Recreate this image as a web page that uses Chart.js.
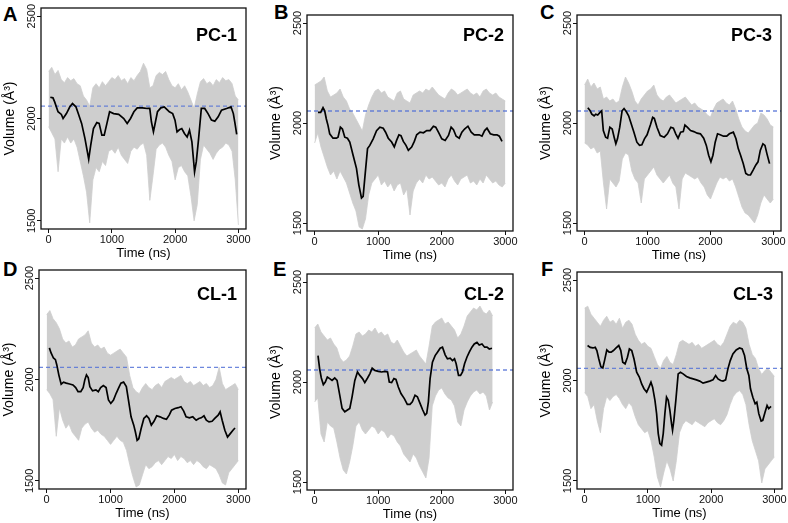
<!DOCTYPE html>
<html><head><meta charset="utf-8">
<script src="https://cdn.jsdelivr.net/npm/chart.js@4.4.1/dist/chart.umd.min.js"></script>
<style>
html,body{margin:0;padding:0;background:#fff;width:788px;height:523px;overflow:hidden;position:relative;}
canvas{position:absolute;}
.lt{position:absolute;font:bold 20px "Liberation Sans",Arial,sans-serif;line-height:20px;color:#000;}
</style></head><body>
<div class="lt" style="left:3px;top:4px">A</div>
<div class="lt" style="left:274px;top:2px">B</div>
<div class="lt" style="left:540px;top:2px">C</div>
<div class="lt" style="left:3px;top:259px">D</div>
<div class="lt" style="left:273px;top:259px">E</div>
<div class="lt" style="left:541px;top:259px">F</div>
<script>
// ---------- DATA ----------
const xTicks = [0, 1000, 2000, 3000];
const yTicks = [1500, 2000, 2500];
const refVolume = 2060;
const panelTitles = ["PC-1", "PC-2", "PC-3", "CL-1", "CL-2", "CL-3"];

const envTime = [0,50,100,150,200,250,300,350,400,450,500,550,600,650,700,750,800,850,900,950,
 1000,1050,1100,1150,1200,1250,1300,1350,1400,1450,1500,1550,1600,1650,1700,1750,1800,1850,1900,1950,
 2000,2050,2100,2150,2200,2250,2300,2350,2400,2450,2500,2550,2600,2650,2700,2750,2800,2850,2900,2950,3000];
const envTimeE = [0,50,100,150,200,250,300,350,400,450,500,550,600,650,700,750,800,850,900,950,
 1000,1050,1100,1150,1200,1250,1300,1350,1400,1450,1500,1550,1600,1650,1700,1750,1800,1850,1900,1950,
 2000,2050,2100,2150,2200,2250,2300,2350,2400,2450,2500,2550,2600,2650,2700,2750,2800];

// PC-1
const pc1Time = [27,69,96,149,202,229,282,336,378,432,469,522,575,613,634,666,709,762,799,842,879,922,964,1028,1108,1188,1242,1295,1348,1401,1481,1561,1599,1625,1657,1678,1721,1774,1828,1881,1908,1961,1998,2030,2067,2105,2147,2190,2227,2265,2307,2334,2371,2414,2467,2520,2574,2627,2680,2733,2813,2883,2920,2946,2973];
const pc1Smooth = [2104,2101,2081,2033,2020,2000,2024,2057,2073,2057,2024,1976,1902,1837,1801,1870,1951,1980,1976,1919,1919,1976,2033,2024,2020,2000,1976,2000,2033,2052,2052,2049,2049,1984,1935,1967,2033,2052,2057,2041,2033,2024,1992,1935,1945,1951,1927,1910,1943,1886,1739,1788,1902,2049,2049,2024,1992,1987,2008,2041,2049,2057,2024,1976,1922];
const pc1Upper = [2230,2250,2215,2235,2190,2175,2200,2185,2195,2170,2160,2110,2090,2060,2150,2170,2150,2180,2160,2180,2200,2190,2210,2185,2195,2170,2200,2185,2210,2230,2270,2240,2150,2160,2210,2225,2215,2230,2190,2160,2150,2170,2140,2160,2130,2090,2050,2120,2180,2195,2170,2180,2160,2190,2175,2200,2185,2190,2170,2110,2090];
const pc1Lower = [1960,1930,1900,1740,1900,1880,1910,1880,1900,1860,1790,1720,1640,1490,1700,1760,1740,1790,1770,1840,1850,1830,1860,1820,1800,1780,1840,1860,1850,1870,1880,1820,1600,1720,1850,1870,1880,1860,1820,1790,1700,1760,1770,1740,1720,1620,1500,1580,1800,1870,1850,1830,1800,1830,1850,1860,1880,1870,1840,1700,1480];

// PC-2
const pc2Time = [53,95,132,158,184,211,237,289,342,368,405,437,474,516,553,605,658,695,737,763,789,832,868,921,974,1026,1079,1116,1158,1211,1253,1289,1326,1358,1395,1437,1474,1526,1568,1605,1658,1711,1763,1816,1868,1905,1947,2000,2053,2105,2147,2184,2226,2274,2316,2358,2411,2463,2511,2553,2589,2632,2674,2711,2763,2816,2868,2905,2947];
const pc2Smooth = [2053,2053,2077,2061,2020,1987,1946,1924,1924,1929,1979,1970,1929,1924,1905,1839,1773,1691,1625,1633,1724,1872,1888,1921,1962,1979,1974,1954,1924,1905,1880,1913,1941,1937,1908,1888,1863,1880,1908,1941,1954,1951,1962,1962,1984,1979,1954,1921,1913,1938,1979,1967,1934,1924,1954,1970,1984,1954,1941,1941,1941,1934,1962,1974,1946,1941,1941,1934,1908];
const pc2Upper = [2190,2200,2210,2230,2160,2130,2140,2150,2170,2130,2110,2070,2050,2020,1990,1960,2040,2090,2130,2160,2170,2150,2160,2130,2120,2110,2150,2160,2120,2110,2100,2140,2150,2160,2150,2170,2160,2180,2160,2140,2130,2120,2150,2170,2160,2140,2150,2160,2170,2150,2140,2150,2130,2160,2170,2150,2140,2150,2130,2120,2110];
const pc2Lower = [1900,1950,1880,1830,1780,1740,1760,1720,1760,1730,1700,1650,1600,1560,1480,1470,1520,1640,1700,1720,1740,1690,1710,1680,1700,1660,1690,1700,1640,1670,1540,1660,1700,1720,1700,1740,1720,1730,1710,1690,1700,1680,1720,1740,1710,1690,1720,1730,1740,1700,1710,1690,1720,1700,1740,1720,1700,1710,1690,1680,1700];

// PC-3
const pc3Time = [52,89,115,152,178,209,246,272,298,335,366,402,439,470,497,523,559,596,627,664,700,742,784,831,873,910,951,993,1045,1082,1108,1150,1202,1265,1317,1370,1411,1448,1485,1526,1568,1594,1631,1683,1735,1788,1840,1892,1934,1971,2007,2039,2075,2112,2154,2206,2258,2300,2363,2405,2441,2478,2520,2561,2598,2635,2677,2718,2755,2791,2833,2865,2896,2938];
const pc3Smooth = [2076,2061,2044,2036,2044,2040,2053,2061,1962,1929,1924,1979,1970,1929,1896,1921,1979,2061,2072,2056,2036,1995,1954,1904,1888,1891,1921,1941,1990,2028,2023,1979,1937,1929,1946,1979,1974,1946,1924,1954,1957,1990,1979,1962,1957,1949,1946,1924,1888,1839,1806,1839,1904,1946,1941,1934,1934,1946,1954,1921,1872,1839,1797,1748,1740,1740,1764,1789,1806,1863,1896,1888,1847,1797];
const pc3Upper = [2190,2220,2180,2200,2170,2180,2120,2130,2110,2120,2100,2110,2180,2230,2200,2160,2110,2090,2120,2140,2160,2170,2190,2140,2120,2110,2130,2140,2120,2100,2110,2120,2130,2110,2090,2100,2080,2070,2060,2040,2030,2070,2100,2110,2120,2100,2090,2110,2070,2020,1980,1960,1950,1970,1990,2000,2050,2040,2020,1990,1980];
const pc3Lower = [1900,1890,1870,1880,1850,1860,1700,1570,1720,1700,1680,1710,1820,1850,1840,1760,1720,1700,1600,1720,1740,1760,1780,1740,1720,1700,1720,1740,1700,1680,1570,1720,1750,1740,1730,1720,1730,1700,1680,1640,1620,1660,1700,1730,1720,1730,1710,1720,1680,1630,1580,1550,1540,1520,1500,1540,1600,1640,1620,1600,1620];

// CL-1
const cl1Time = [42,69,106,137,158,190,227,264,306,359,412,454,491,534,571,597,623,650,676,718,771,808,845,887,930,967,1004,1046,1088,1125,1162,1204,1247,1284,1321,1363,1389,1416,1442,1479,1521,1564,1601,1638,1680,1722,1775,1828,1875,1918,1955,2007,2060,2102,2145,2182,2235,2287,2340,2382,2419,2462,2499,2541,2589,2631,2684,2715,2747,2789,2831,2874,2916,2948];
const cl1Smooth = [2156,2131,2106,2098,2073,2023,1977,1987,1982,1978,1973,1960,1940,1940,1960,1998,2023,2010,1965,1944,1949,1940,1960,1970,1960,1899,1882,1899,1932,1957,1982,1987,1965,1891,1816,1775,1741,1700,1708,1758,1808,1821,1808,1775,1794,1821,1816,1808,1804,1824,1849,1857,1861,1866,1844,1816,1811,1816,1799,1808,1811,1821,1799,1791,1794,1808,1824,1841,1799,1750,1716,1733,1750,1761];
const cl1Upper = [2320,2340,2300,2280,2250,2200,2180,2190,2160,2170,2200,2210,2220,2240,2180,2160,2170,2150,2160,2130,2120,2130,2140,2150,2130,2110,2020,1960,1940,1930,1960,1980,1960,1950,1970,1980,1960,1990,2000,2010,2000,2010,2020,1990,1980,1990,1970,1980,1990,1970,1980,1960,1970,2000,2060,1980,1950,1960,1970,1980,1950];
const cl1Lower = [1950,1930,1900,1720,1860,1800,1760,1780,1740,1720,1700,1760,1780,1790,1760,1740,1750,1730,1720,1700,1680,1700,1720,1700,1690,1650,1580,1520,1470,1480,1530,1580,1560,1570,1590,1600,1580,1600,1620,1610,1630,1600,1620,1610,1590,1600,1580,1600,1590,1570,1560,1580,1570,1560,1530,1490,1480,1540,1560,1580,1600];

// CL-2
const cl2Time = [53,79,105,137,168,200,237,274,316,353,395,432,474,516,553,589,632,674,711,753,789,832,868,905,947,1000,1053,1105,1147,1174,1211,1247,1279,1316,1358,1411,1458,1500,1537,1579,1616,1658,1700,1737,1763,1789,1816,1853,1895,1932,1974,2011,2053,2089,2132,2168,2200,2226,2263,2295,2326,2358,2395,2432,2474,2511,2553,2589,2632,2674,2711,2747,2789];
const cl2Smooth = [2132,2066,2020,1987,2000,2025,2017,2008,2020,2008,1934,1868,1851,1860,1868,1926,2008,2050,2033,2017,1997,2020,2041,2069,2058,2053,2050,2053,2050,2000,1997,2017,2013,1975,1942,1917,1888,1888,1901,1934,1926,1893,1860,1835,1843,1901,2017,2099,2132,2149,2169,2174,2136,2116,2119,2107,2116,2091,2033,2033,2050,2091,2124,2149,2174,2190,2198,2185,2190,2174,2174,2165,2169];
const cl2Upper = [2270,2290,2250,2230,2210,2220,2190,2170,2120,2100,2110,2130,2180,2240,2250,2230,2240,2260,2250,2270,2240,2250,2230,2240,2200,2190,2210,2180,2150,2130,2140,2150,2160,2130,2110,2090,2180,2280,2300,2310,2320,2290,2300,2280,2260,2220,2240,2280,2330,2350,2370,2360,2380,2350,2340,2360,2330];
const cl2Lower = [1900,1920,1740,1700,1800,1780,1770,1700,1620,1560,1540,1600,1680,1780,1800,1760,1740,1760,1780,1770,1740,1760,1750,1720,1740,1730,1700,1680,1640,1620,1600,1640,1620,1580,1550,1520,1620,1880,1930,1960,1970,1940,1920,1910,1880,1800,1780,1860,1900,1930,1950,1960,1940,1950,1930,1860,1900];

// CL-3
const cl3Time = [47,89,131,168,194,225,257,288,315,351,388,420,456,498,540,572,603,640,677,708,745,781,823,865,902,939,981,1017,1049,1075,1112,1138,1164,1190,1217,1243,1269,1295,1322,1348,1374,1390,1411,1442,1479,1515,1557,1610,1662,1715,1767,1820,1872,1925,1977,2029,2071,2108,2150,2187,2229,2265,2302,2344,2396,2449,2491,2528,2564,2596,2622,2659,2696,2722,2753,2790,2816,2853,2884,2910,2947];
const cl3Smooth = [2174,2165,2162,2165,2149,2107,2069,2063,2099,2152,2141,2141,2149,2162,2174,2149,2091,2083,2116,2157,2149,2107,2041,2017,1983,1959,1942,1967,1992,1967,1901,1835,1736,1686,1678,1736,1835,1917,1901,1851,1785,1752,1802,1901,2033,2041,2033,2020,2013,2008,2003,1997,1987,1992,1997,2003,2025,2008,2000,1997,2003,2058,2099,2132,2152,2162,2157,2124,2058,2025,1959,1917,1884,1892,1835,1798,1802,1843,1876,1860,1871];
const cl3Upper = [2360,2370,2330,2310,2290,2270,2300,2320,2290,2300,2280,2310,2260,2290,2300,2280,2230,2200,2180,2190,2170,2160,2120,2080,2060,2100,2120,2090,2080,2130,2190,2200,2190,2180,2190,2170,2180,2160,2170,2180,2190,2200,2180,2170,2190,2230,2270,2290,2280,2300,2290,2260,2180,2130,2110,2060,2030,2050,2060,2040,2020];
const cl3Lower = [1940,1920,1860,1880,1800,1740,1860,1920,1900,1920,1930,1910,1880,1860,1890,1870,1820,1780,1760,1740,1750,1700,1620,1520,1470,1540,1600,1560,1500,1600,1740,1780,1800,1790,1780,1800,1790,1780,1770,1790,1800,1810,1790,1780,1800,1830,1880,1920,1940,1950,1930,1880,1780,1700,1650,1600,1490,1560,1580,1600,1620];

// ---------- LAYOUT (canvas placement) ----------
const layout = [
  {left:0,   top:4,   w:252, h:259, titleBase:37},
  {left:266, top:11,  w:253, h:254, titleBase:30},
  {left:536, top:11,  w:251, h:254, titleBase:30},
  {left:-1,  top:266, w:253, h:257, titleBase:34},
  {left:266, top:270, w:253, h:254, titleBase:30},
  {left:536, top:268, w:252, h:255, titleBase:32}
];
const series = [
  [pc1Time, pc1Smooth, envTime, pc1Upper, pc1Lower],
  [pc2Time, pc2Smooth, envTime, pc2Upper, pc2Lower],
  [pc3Time, pc3Smooth, envTime, pc3Upper, pc3Lower],
  [cl1Time, cl1Smooth, envTime, cl1Upper, cl1Lower],
  [cl2Time, cl2Smooth, envTimeE, cl2Upper, cl2Lower],
  [cl3Time, cl3Smooth, envTime, cl3Upper, cl3Lower]
];

const FONT = '"Liberation Sans", Arial, Helvetica, sans-serif';
const GREY = 'rgb(206,206,206)';
const zip = (xs, ys) => xs.map((x, i) => ({x: x, y: ys[i]}));

const framePlugin = {
  id: 'frame',
  afterDatasetsDraw(chart, args, opts) {
    const {ctx, chartArea: a} = chart;
    ctx.save();
    ctx.strokeStyle = '#111';
    ctx.lineWidth = 1.3;
    ctx.strokeRect(a.left, a.top, a.right - a.left, a.bottom - a.top);
    ctx.fillStyle = '#000';
    ctx.font = 'bold 18px ' + FONT;
    ctx.textAlign = 'right';
    ctx.textBaseline = 'alphabetic';
    ctx.fillText(opts.title, a.right - 9, opts.base);
    ctx.restore();
  }
};

layout.forEach((L, i) => {
  const [t, v, et, up, lo] = series[i];
  const c = document.createElement('canvas');
  c.width = L.w; c.height = L.h;
  c.style.left = L.left + 'px'; c.style.top = L.top + 'px';
  c.style.width = L.w + 'px'; c.style.height = L.h + 'px';
  document.body.appendChild(c);
  new Chart(c, {
    type: 'line',
    data: {
      datasets: [
        {data: zip(t, v), borderColor: '#000', borderWidth: 1.7, pointRadius: 0, fill: false, tension: 0},
        {data: [{x: -120, y: refVolume}, {x: 3120, y: refVolume}], borderColor: 'rgba(85,115,215,0.85)', borderWidth: 1.3, borderDash: [4, 3], pointRadius: 0, fill: false},
        {data: zip(et, up), borderColor: GREY, borderWidth: 0.8, backgroundColor: GREY, pointRadius: 0, fill: '+1', tension: 0},
        {data: zip(et, lo), borderColor: GREY, borderWidth: 0.8, pointRadius: 0, fill: false, tension: 0}
      ]
    },
    options: {
      responsive: false, animation: false, events: [],
      layout: {padding: {left: 0, top: 4, right: 6, bottom: 0}},
      plugins: {legend: {display: false}, tooltip: {enabled: false},
        frame: {title: panelTitles[i], base: L.titleBase}},
      scales: {
        x: {
          type: 'linear', min: -120, max: 3120,
          afterBuildTicks: s => { s.ticks = xTicks.map(x => ({value: x})); },
          afterFit: s => { s.height = 34; },
          ticks: {autoSkip: false, maxRotation: 0, minRotation: 0, padding: 0, color: '#111', font: {family: FONT, size: 11},
            callback: val => String(val)},
          grid: {drawOnChartArea: false, drawTicks: true, tickLength: 4, color: '#111', tickColor: '#111'},
          border: {display: false},
          title: {display: true, text: 'Time (ns)', color: '#000', font: {family: FONT, size: 13}, padding: {top: 0, bottom: 2}}
        },
        y: {
          type: 'linear', min: 1460, max: 2540,
          afterBuildTicks: s => { s.ticks = yTicks.map(y => ({value: y})); },
          afterFit: s => { s.width = 41 + (L.left < 0 ? -1 : 0); },
          ticks: {autoSkip: false, minRotation: 90, maxRotation: 90, crossAlign: 'center', padding: -7, color: '#111', font: {family: FONT, size: 11},
            callback: val => String(val)},
          grid: {drawOnChartArea: false, drawTicks: true, tickLength: 4, color: '#111', tickColor: '#111'},
          border: {display: false},
          title: {display: true, text: 'Volume (Å³)', color: '#000', font: {family: FONT, size: 14}, padding: {top: 2, bottom: 0}}
        }
      }
    },
    plugins: [framePlugin]
  });
});
</script>
</body></html>
